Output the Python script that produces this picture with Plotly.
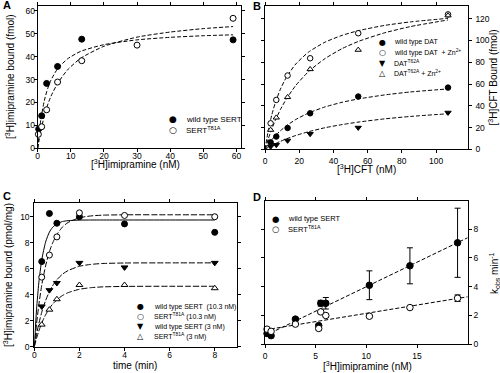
import plotly.graph_objects as go

# ---------------- data ----------------
# Panel A: saturation binding of [3H]imipramine
a_conc_wt = [0.3, 1.2, 2.7, 6.0, 13.3, 59.0]
a_bound_wt = [8.4, 14.2, 28.3, 35.7, 47.6, 47.3]
a_conc_mut = [0.2, 1.2, 2.7, 6.0, 13.3, 30.0, 59.0]
a_bound_mut = [6.1, 9.4, 16.8, 28.9, 38.2, 45.0, 56.7]
a_fit_conc = [0, 0.5, 1, 2, 3, 4, 6, 9, 13, 20, 30, 40, 50, 59]
a_fit_wt = [0, 7.4, 13.0, 20.8, 26.0, 29.7, 34.7, 39.0, 42.3, 45.2, 47.3, 48.4, 49.1, 49.5]
a_fit_mut = [0, 4.2, 7.9, 14.2, 18.9, 22.7, 28.3, 34.2, 39.3, 44.5, 48.5, 50.7, 52.2, 53.1]
a_xticks = [0, 10, 20, 30, 40, 50, 60]
a_yticks = [0, 10, 20, 30, 40, 50, 60]

# Panel B: [3H]CFT binding
b_conc = [3.3, 6.6, 13.2, 26.4, 54.5, 107]
b_wt = [6.4, 11.7, 19.6, 33.1, 48.5, 56.7]
b_wt_zn = [23.9, 45.4, 67.8, 83.7, 106.7, 124.0]
b_t62a = [2.5, 4.0, 8.0, 14.1, 19.9, 33.7]
b_t62a_zn = [17.8, 29.1, 47.9, 73.6, 91.4, 123.0]
b_fit_conc = [0, 2, 4, 6, 9, 12.5, 18, 25.5, 35, 45, 55, 70, 85, 107]
b_fit_wt = [0, 4.7, 8.8, 12.4, 17.0, 21.6, 27.4, 33.4, 38.9, 43.2, 46.4, 50.0, 52.7, 55.5]
b_fit_wt_zn = [0, 18.0, 31.8, 42.6, 55.2, 66.2, 78.4, 89.4, 98.4, 104.7, 109.2, 113.9, 117.1, 120.4]
b_fit_t62a = [0, 1.9, 3.6, 5.1, 7.3, 9.6, 12.7, 16.2, 19.8, 22.7, 25.1, 28.0, 30.2, 32.7]
b_fit_t62a_zn = [0, 10.0, 18.8, 26.5, 36.5, 46.3, 58.7, 71.5, 83.3, 92.5, 99.4, 107.1, 112.8, 118.9]
b_xticks = [0, 20, 40, 60, 80, 100]
b_yticks = [0, 20, 40, 60, 80, 100, 120]

# Panel C: association time course
c_time = [0.33, 0.67, 1, 2, 4, 8]
c_wt10 = [6.55, 10.25, 9.5, 10.0, 9.45, 8.8]
c_mut10 = [5.35, 7.05, 8.45, 10.3, 10.1, 10.0]
c_wt3 = [3.1, 4.35, 4.9, 6.45, 6.1, 6.45]
c_mut3 = [1.7, 2.85, 3.65, 4.75, 4.75, 4.5]
c_fit_time = [0, 0.1, 0.2, 0.33, 0.5, 0.67, 0.8, 1, 1.25, 1.5, 2, 2.5, 3, 4, 6, 8]
c_fit_wt10 = [0, 2.88, 4.91, 6.68, 8.05, 8.82, 9.16, 9.46, 9.63, 9.70, 9.74, 9.75, 9.75, 9.75, 9.75, 9.75]
c_fit_mut10 = [0, 1.76, 3.21, 4.73, 6.22, 7.31, 7.93, 8.63, 9.21, 9.56, 9.92, 10.06, 10.12, 10.15, 10.15, 10.15]
c_fit_wt3 = [0, 0.95, 1.77, 2.65, 3.55, 4.24, 4.66, 5.15, 5.58, 5.86, 6.19, 6.33, 6.40, 6.44, 6.45, 6.45]
c_fit_mut3 = [0, 0.65, 1.20, 1.82, 2.45, 2.95, 3.25, 3.61, 3.94, 4.16, 4.42, 4.54, 4.60, 4.64, 4.65, 4.65]
c_xticks = [0, 2, 4, 6, 8]
c_yticks = [0, 2, 4, 6, 8, 10]

# Panel D: kobs vs concentration
d_conc = [0.2, 0.6, 3.0, 5.3, 5.5, 6.0, 10.3, 14.3, 19.0]
d_kobs_wt = [0.75, 0.6, 1.75, 1.3, 2.85, 2.85, 4.1, 5.45, 7.05]
d_err_wt = [0.05, 0.05, 0.1, 0.1, 0.2, 0.4, 1.0, 1.25, 2.4]
d_kobs_mut = [1.05, 0.9, 1.4, 1.1, 2.25, 2.0, 1.95, 2.55, 3.2]
d_err_mut = [0.05, 0.05, 0.05, 0.1, 0.1, 0.1, 0.05, 0.05, 0.23]
d_fit_conc = [0, 20]
d_fit_wt = [0.6, 7.4]
d_fit_mut = [1.0, 3.3]
d_xticks = [0, 5, 10, 15]
d_yticks = [0, 2, 4, 6, 8]

# text
a_legend = ["wild type SERT", "SERT<sup>T81A</sup>"]
b_legend = ["wild type DAT", "wild type DAT  + Zn<sup>2+</sup>", "DAT<sup>T62A</sup>",
            "DAT<sup>T62A</sup> + Zn<sup>2+</sup>"]
c_legend = ["wild type SERT  (10.3 nM)", "SERT<sup>T81A</sup> (10.3 nM)",
            "wild type SERT (3 nM)", "SERT<sup>T81A</sup> (3 nM)"]
d_legend = ["wild type SERT", "SERT<sup>T81A</sup>"]
panel_letters = ["A", "B", "C", "D"]
t3 = "[<sup>3</sup>H]"
axis_titles = {
    "A_x": t3 + "imipramine (nM)", "A_y": t3 + "imipramine bound (fmol)",
    "B_x": t3 + "CFT (nM)", "B_y": t3 + "CFT Bound (fmol)",
    "C_x": "time (min)", "C_y": t3 + "imipramine bound (pmol/mg)",
    "D_x": t3 + "imipramine (nM)", "D_y": "k<sub>obs</sub> min<sup>-1</sup>",
}

# ---------------- figure ----------------
W, H = 500, 373
FONT = "Liberation Sans, Arial, sans-serif"


def fx(p):
    return p / W


def fy(p):
    return 1 - p / H


STY = {
    "fc": dict(symbol="circle", color="black", line=dict(color="black", width=1)),
    "oc": dict(symbol="circle", color="white", line=dict(color="black", width=1)),
    "ft": dict(symbol="triangle-down", color="black", line=dict(color="black", width=1)),
    "ot": dict(symbol="triangle-up", color="white", line=dict(color="black", width=1)),
}
GLYPH = {"fc": "\u25cf", "oc": "\u25cb", "ft": "\u25bc", "ot": "\u25b3"}

fig = go.Figure()


def add_pts(x, y, sty, n, size=6, err=None):
    m = dict(STY[sty])
    m["size"] = size
    kw = {}
    if err is not None:
        kw["error_y"] = dict(type="data", array=err, visible=True, color="black",
                             thickness=1, width=3)
    fig.add_trace(go.Scatter(x=x, y=y, mode="markers", marker=m, cliponaxis=False,
                             xaxis="x" + n, yaxis="y" + n, showlegend=False, **kw))


def add_fit(x, y, n, dash="4px,2px"):
    fig.add_trace(go.Scatter(x=x, y=y, mode="lines", line=dict(color="black", width=1, dash=dash,
                                                                shape="spline", smoothing=0.6),
                             xaxis="x" + n, yaxis="y" + n, showlegend=False, hoverinfo="skip"))


# A
add_fit(a_fit_conc, a_fit_wt, "")
add_fit(a_fit_conc, a_fit_mut, "")
add_pts(a_conc_wt, a_bound_wt, "fc", "")
add_pts(a_conc_mut, a_bound_mut, "oc", "")
# B
add_fit(b_fit_conc, b_fit_wt, "2")
add_fit(b_fit_conc, b_fit_wt_zn, "2")
add_fit(b_fit_conc, b_fit_t62a, "2")
add_fit(b_fit_conc, b_fit_t62a_zn, "2")
add_pts(b_conc, b_wt, "fc", "2", 5.5)
add_pts(b_conc, b_wt_zn, "oc", "2", 5.5)
add_pts(b_conc, b_t62a, "ft", "2", 5.5)
add_pts(b_conc, b_t62a_zn, "ot", "2", 5.5)
# C
add_fit(c_fit_time, c_fit_wt10, "3", "solid")
add_fit(c_fit_time, c_fit_mut10, "3", "6px,2px")
add_fit(c_fit_time, c_fit_wt3, "3", "6px,2px")
add_fit(c_fit_time, c_fit_mut3, "3", "6px,2px")
add_pts(c_time, c_wt10, "fc", "3")
add_pts(c_time, c_mut10, "oc", "3")
add_pts(c_time, c_wt3, "ft", "3")
add_pts(c_time, c_mut3, "ot", "3")
# D
add_fit(d_fit_conc, d_fit_wt, "4", "4px,2px")
add_fit(d_fit_conc, d_fit_mut, "4", "4px,2px")
add_pts(d_conc, d_kobs_wt, "fc", "4", 6.5, d_err_wt)
add_pts(d_conc, d_kobs_mut, "oc", "4", 6.5, d_err_mut)

TICKFONT = dict(family=FONT, size=8.5, color="black")


def axis(domain, rng, tickvals, **kw):
    d = dict(domain=domain, range=rng, tickvals=tickvals, showline=True, linecolor="black",
             linewidth=1, mirror="ticks", ticks="outside", ticklen=3, tickwidth=1,
             tickcolor="black", tickfont=TICKFONT, showgrid=False, zeroline=False,
             fixedrange=True, automargin=False)
    d.update(kw)
    return d


fig.update_layout(
    width=W, height=H, margin=dict(l=0, r=0, t=0, b=0),
    paper_bgcolor="white", plot_bgcolor="white", font=dict(family=FONT, color="black"),
    xaxis=axis([fx(37.7), fx(240.7)], [0, 61.3], a_xticks, anchor="y", ticklabelstandoff=-4),
    yaxis=axis([fy(148.3), fy(5.7)], [0, 62.2], a_yticks, anchor="x", ticklabelstandoff=-3),
    xaxis2=axis([fx(265), fx(467.7)], [0, 118.5], b_xticks, anchor="y2"),
    yaxis2=axis([fy(149.3), fy(5.7)], [0, 132], b_yticks, anchor="x2", side="right",
                ticklabelstandoff=2),
    xaxis3=axis([fx(34.3), fx(237.3)], [0, 9], c_xticks, anchor="y3", ticklabelstandoff=-3),
    yaxis3=axis([fy(346.7), fy(202.7)], [0, 11.08], c_yticks, anchor="x3", ticklabelstandoff=-1),
    xaxis4=axis([fx(265), fx(467.7)], [0, 20], d_xticks, anchor="y4"),
    yaxis4=axis([fy(344.3), fy(201)], [0, 9.95], d_yticks, anchor="x4", side="right"),
)

ann = []
# panel letters
for letter, (px, py) in zip(panel_letters, [(1, 5), (251, 6), (1, 196), (251, 197)]):
    ann.append(dict(text="<b>%s</b>" % letter, x=fx(px), y=fy(py), xref="paper", yref="paper",
                    xanchor="left", yanchor="middle", showarrow=False,
                    font=dict(family=FONT, size=11, color="black")))

# axis titles (placed as annotations so their positions can match exactly)
title_pos = {
    "A_x": (135, 164.5, 0), "A_y": (10, 77, -90),
    "B_x": (366, 168.5, 0), "B_y": (492, 77.5, -90),
    "C_x": (135, 365, 0), "C_y": (8, 275, -90),
    "D_x": (367, 366, 0), "D_y": (494, 273, -90),
}
for key, (px, py, ang) in title_pos.items():
    ann.append(dict(text=axis_titles[key], x=fx(px), y=fy(py), xref="paper", yref="paper",
                    xanchor="center", yanchor="middle", textangle=ang, showarrow=False,
                    font=dict(family=FONT, size=10, color="black")))


def legend(labels, syms, sx, tx, rows, size):
    for lab, s, ry in zip(labels, syms, rows):
        ann.append(dict(text=GLYPH[s], x=fx(sx), y=fy(ry), xref="paper", yref="paper",
                        xanchor="center", yanchor="middle", showarrow=False,
                        font=dict(family="DejaVu Sans", size=size + 1, color="black")))
        ann.append(dict(text=lab, x=fx(tx), y=fy(ry), xref="paper", yref="paper",
                        xanchor="left", yanchor="middle", showarrow=False,
                        font=dict(family=FONT, size=size, color="black")))


legend(a_legend, ["fc", "oc"], 173, 184, [119, 130], 8)
legend(b_legend, ["fc", "oc", "ft", "ot"], 382.3, 392, [42.3, 52.3, 63.3, 73.3], 7)
legend(c_legend, ["fc", "oc", "ft", "ot"], 140, 152, [306.7, 316.7, 326.7, 336.7], 7)
legend(d_legend, ["fc", "oc"], 275, 286, [219, 229], 7.5)

fig.update_layout(annotations=ann)
fig.write_html("out.html", config={"displayModeBar": False},
               post_script="document.body.style.margin='0';document.body.style.padding='0';")
